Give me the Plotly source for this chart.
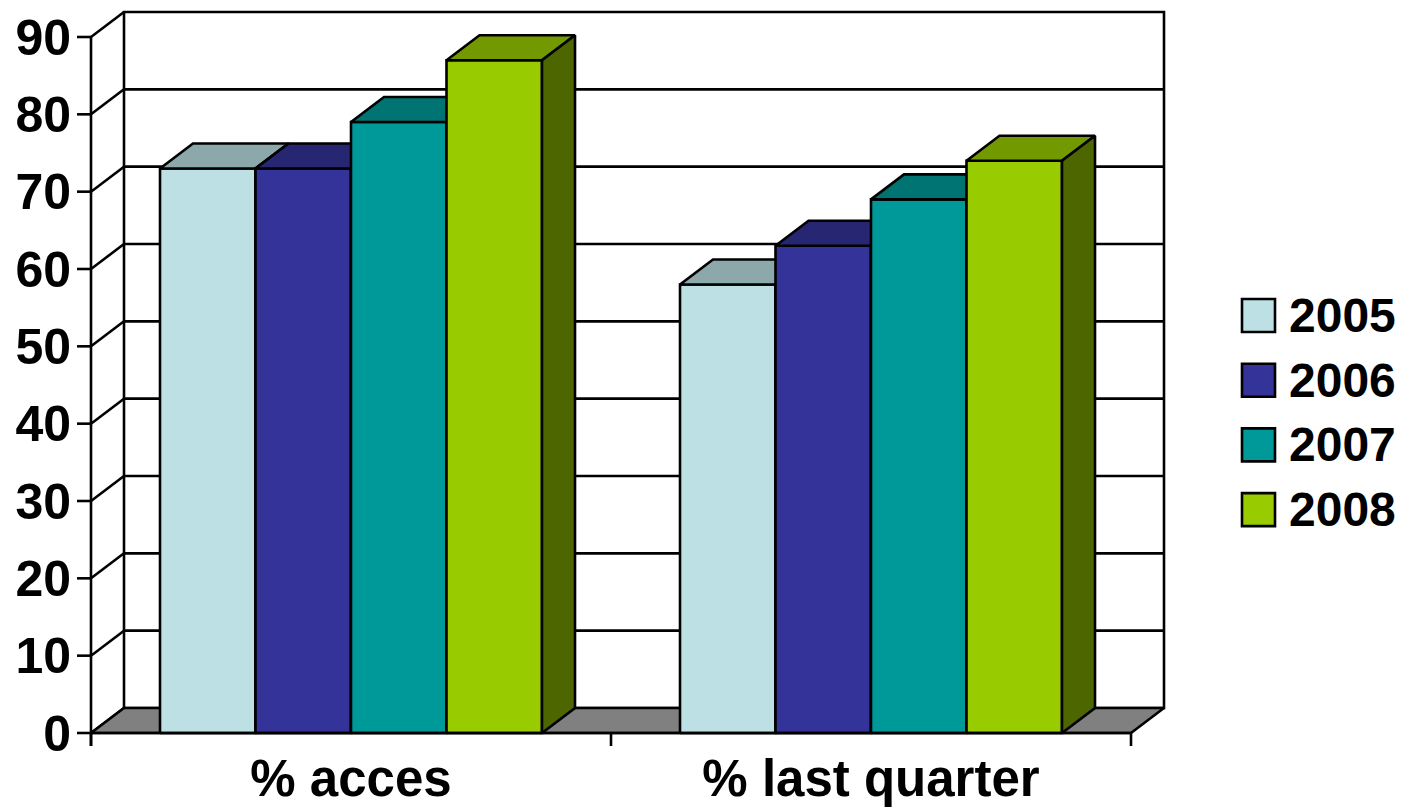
import plotly.graph_objects as go

# ---- data ----
categories = ["% acces", "% last quarter"]
years = ["2005", "2006", "2007", "2008"]
y2005 = [73, 58]
y2006 = [73, 63]
y2007 = [79, 69]
y2008 = [87, 74]
y_ticks = [0, 10, 20, 30, 40, 50, 60, 70, 80, 90]

series = [y2005, y2006, y2007, y2008]

# ---- styles ----
front_colors = ["#BCE0E3", "#333399", "#009999", "#99CC00"]
top_colors = ["#8DA8AA", "#262673", "#007373", "#739900"]
side_colors = ["#5E7071", "#1A1A4D", "#004D4D", "#4D6600"]
FLOOR = "#808080"
EDGE = "black"
LW = 2.6
FONT = "Liberation Sans, Arial, sans-serif"

# ---- page geometry (pixels) ----
W, H = 1401, 809
AX_X0 = 91            # front-left corner of the category axis
CAT_PX = 520          # width of one category on the front plane
Y0_PX = 733           # front floor line
PX_PER_UNIT = 696 / 90
DEPTH_PX = (33, 25)   # oblique depth offset (right, up)
PLOT_L, PLOT_R, PLOT_T, PLOT_B = 72, 1180, 4, 752
CAT_LABEL_PY = 744    # baseline position the category labels hang from
GROUP = 0.7346        # fraction of a category taken by the cluster


def px_to_u(px):
    return (px - AX_X0) / CAT_PX - 0.5


def py_to_v(py):
    return (Y0_PX - py) / PX_PER_UNIT


def paper_x(px):
    return (px - PLOT_L) / (PLOT_R - PLOT_L)


def paper_y(py):
    return (PLOT_B - py) / (PLOT_B - PLOT_T)


DX = DEPTH_PX[0] / CAT_PX
DY = DEPTH_PX[1] / PX_PER_UNIT
XL, XR = -0.5, len(categories) - 0.5
VMAX = y_ticks[-1]

fig = go.Figure()


def poly(pts, fill, width=LW):
    xs = [p[0] for p in pts] + [pts[0][0]]
    ys = [p[1] for p in pts] + [pts[0][1]]
    fig.add_trace(go.Scatter(
        x=xs, y=ys, mode="lines", fill="toself", fillcolor=fill,
        line=dict(color=EDGE, width=width), hoverinfo="skip", showlegend=False))


def segs(pairs, width=LW):
    xs, ys = [], []
    for (a, b) in pairs:
        xs += [a[0], b[0], None]
        ys += [a[1], b[1], None]
    fig.add_trace(go.Scatter(
        x=xs, y=ys, mode="lines", line=dict(color=EDGE, width=width),
        hoverinfo="skip", showlegend=False))


# back wall and its gridlines
poly([(XL + DX, DY), (XR + DX, DY), (XR + DX, VMAX + DY), (XL + DX, VMAX + DY)], "white")
segs([((XL + DX, v + DY), (XR + DX, v + DY)) for v in y_ticks[1:-1]])
# side wall diagonals
segs([((XL, v), (XL + DX, v + DY)) for v in y_ticks])
# floor
poly([(XL, 0), (XR, 0), (XR + DX, DY), (XL + DX, DY)], FLOOR)

# 3-D columns, drawn left to right so nearer faces cover hidden ones
bw = GROUP / len(series)
for ci in range(len(categories)):
    for si, s in enumerate(series):
        v = s[ci]
        x0 = ci - GROUP / 2 + si * bw
        x1 = x0 + bw
        poly([(x0, 0), (x1, 0), (x1, v), (x0, v)], front_colors[si])
        poly([(x0, v), (x1, v), (x1 + DX, v + DY), (x0 + DX, v + DY)], top_colors[si])
        poly([(x1, 0), (x1 + DX, DY), (x1 + DX, v + DY), (x1, v)], side_colors[si])

# front axis lines and tick marks
v_low = py_to_v(746)
u_tick = px_to_u(77)
segs([((XL, VMAX), (XL, v_low)), ((XL, 0), (XR, 0))]
     + [((u_tick, v), (XL, v)) for v in y_ticks]
     + [((b, 0), (b, v_low)) for b in [XL + k for k in range(len(categories) + 1)]])

# legend
box = 33
for i, (yr, col) in enumerate(zip(years, front_colors)):
    cy = 315.5 + i * 64.7
    fig.add_shape(type="rect", xref="paper", yref="paper",
                  x0=paper_x(1242), x1=paper_x(1242 + box),
                  y0=paper_y(cy + box / 2), y1=paper_y(cy - box / 2),
                  fillcolor=col, line=dict(color=EDGE, width=LW))
    fig.add_annotation(x=paper_x(1287), y=paper_y(cy), xref="paper", yref="paper",
                       text=yr, showarrow=False, xanchor="left", yanchor="middle",
                       font=dict(family=FONT, size=48, color="black", weight="bold"))

fig.update_layout(
    width=W, height=H,
    margin=dict(l=PLOT_L, r=W - PLOT_R, t=PLOT_T, b=H - PLOT_B, pad=0, autoexpand=False),
    paper_bgcolor="white", plot_bgcolor="white",
    showlegend=False,
    xaxis=dict(range=[px_to_u(PLOT_L), px_to_u(PLOT_R)], showgrid=False, zeroline=False,
               showline=False, ticks="", tickmode="array", automargin=False,
               anchor="free", position=paper_y(CAT_LABEL_PY),
               tickvals=list(range(len(categories))), ticktext=categories,
               tickfont=dict(family=FONT, size=51, color="black", weight="bold"),
               fixedrange=True),
    yaxis=dict(range=[py_to_v(PLOT_B), py_to_v(PLOT_T)], showgrid=False, zeroline=False,
               showline=False, ticks="", tickmode="array", tickvals=y_ticks,
               automargin=False,
               tickfont=dict(family=FONT, size=50, color="black", weight="bold"),
               fixedrange=True),
)

fig.write_html("out.html")
